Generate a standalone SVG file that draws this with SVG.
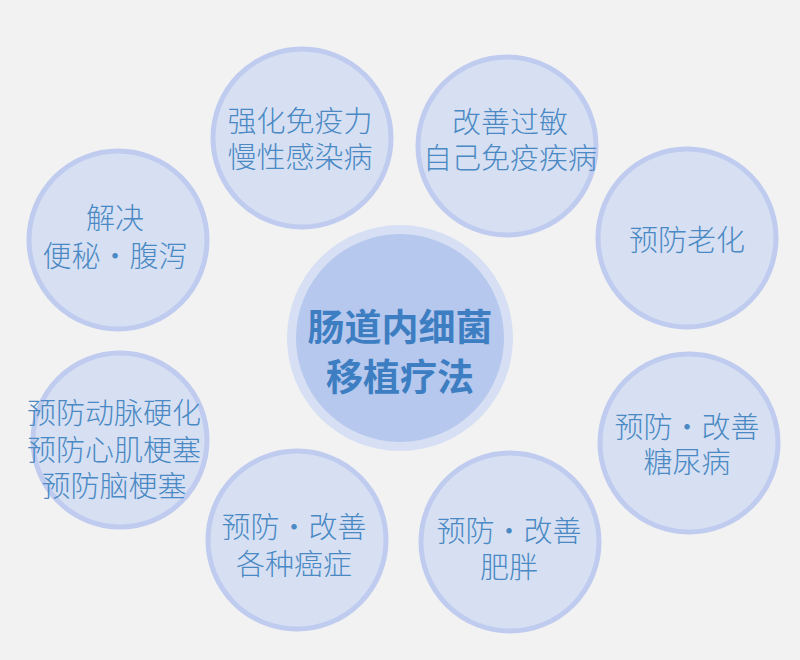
<svg xmlns="http://www.w3.org/2000/svg" width="800" height="660" viewBox="0 0 800 660">
<style>
.bg{fill:#f2f2f2}
.sat{fill:#d7e0f3;stroke:#bfcbef;stroke-width:5}
.t{font-family:"Noto Sans CJK SC","Noto Sans",sans-serif;font-size:29px;font-weight:300;fill:#4a89c3;text-anchor:middle}
.ct{font-family:"Noto Sans CJK SC","Noto Sans",sans-serif;font-size:37px;font-weight:bold;fill:#3d7ec2;text-anchor:middle}
</style>
<rect class="bg" x="0" y="0" width="800" height="660"/>
<g id="connectors"></g>
<g id="center">
<circle cx="400" cy="338" r="113" fill="#d6dff3"/>
<circle cx="400" cy="338" r="104" fill="#b6c8ed"/>
<text class="ct" x="400" y="341">肠道内细菌</text>
<text class="ct" x="400" y="391">移植疗法</text>
</g>
<g id="n-immunity">
<circle class="sat" cx="302" cy="138" r="89"/>
<text class="t" x="300" y="132">强化免疫力</text>
<text class="t" x="300" y="168">慢性感染病</text>
</g>
<g id="n-allergy">
<circle class="sat" cx="507" cy="146" r="89"/>
<text class="t" x="510" y="133">改善过敏</text>
<text class="t" x="510" y="169">自己免疫疾病</text>
</g>
<g id="n-bowel">
<circle class="sat" cx="118" cy="240" r="89"/>
<text class="t" x="115" y="229">解决</text>
<text class="t" x="115" y="267">便秘・腹泻</text>
</g>
<g id="n-aging">
<circle class="sat" cx="687" cy="238" r="89"/>
<text class="t" x="687" y="251">预防老化</text>
</g>
<g id="n-artery">
<circle class="sat" cx="120" cy="440" r="87"/>
<text class="t" x="114" y="424">预防动脉硬化</text>
<text class="t" x="114" y="461">预防心肌梗塞</text>
<text class="t" x="114" y="497">预防脑梗塞</text>
</g>
<g id="n-diabetes">
<circle class="sat" cx="689" cy="443" r="89"/>
<text class="t" x="687" y="438">预防・改善</text>
<text class="t" x="687" y="473">糖尿病</text>
</g>
<g id="n-cancer">
<circle class="sat" cx="297" cy="540" r="89"/>
<text class="t" x="294" y="538">预防・改善</text>
<text class="t" x="294" y="575">各种癌症</text>
</g>
<g id="n-obesity">
<circle class="sat" cx="510" cy="542" r="89"/>
<text class="t" x="509" y="542">预防・改善</text>
<text class="t" x="509" y="578">肥胖</text>
</g>
</svg>
